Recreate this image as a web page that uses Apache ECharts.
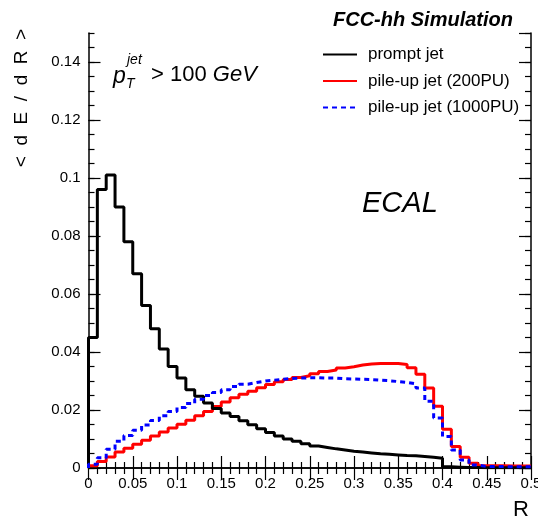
<!DOCTYPE html>
<html>
<head>
<meta charset="utf-8">
<script src="https://cdn.jsdelivr.net/npm/echarts@6/dist/echarts.min.js"></script>
<style>html,body{margin:0;padding:0;background:#fff}#c{width:538px;height:520px}</style>
</head>
<body>
<div id="c"></div>
<script>
// Bin layout: 50 bins of width 0.01 from R = 0 to 0.5
const binWidth = 0.01;
const nBins = 50;

// <dE/dR> per bin
const promptJet = [0.045,0.096,0.101,0.090,0.078,0.067,0.056,0.048,0.041,0.035,
  0.031,0.027,0.0247,0.0224,0.0205,0.019,0.0178,0.0163,0.0149,0.0135,
  0.0122,0.011,0.0100,0.0092,0.0084,0.0076,0.0071,0.0066,0.0062,0.0058,
  0.0055,0.0052,0.0049,0.0047,0.0045,0.0043,0.0042,0.0040,0.0037,0.0034,
  0.0004,0.0003,0.0002,0.0002,0.0001,0.0001,0.0001,0.0001,0.0001,0.0001];

const pileup200 = [0.0008,0.0022,0.0038,0.0055,0.0068,0.0082,0.0096,0.011,0.0124,0.0138,
  0.0151,0.0165,0.018,0.0195,0.0212,0.0228,0.0242,0.0254,0.0265,0.0277,
  0.0288,0.0297,0.0305,0.0312,0.0318,0.0325,0.0333,0.0338,0.0345,0.0349,
  0.0355,0.0359,0.036,0.036,0.036,0.0357,0.0346,0.0323,0.0276,0.0213,
  0.0134,0.0074,0.0037,0.0016,0.0008,0.0008,0.0008,0.0007,0.0007,0.0007];

const pileup1000 = [0.0013,0.0035,0.0065,0.0092,0.0112,0.013,0.0148,0.0164,0.018,0.0195,
  0.0209,0.0222,0.0237,0.025,0.026,0.027,0.0281,0.0289,0.0295,0.03,
  0.0303,0.0306,0.0309,0.031,0.0311,0.0311,0.031,0.031,0.0308,0.0307,
  0.0306,0.0305,0.0303,0.0301,0.0298,0.0295,0.029,0.0276,0.023,0.0172,
  0.0109,0.0062,0.0028,0.001,0.0005,0.0005,0.0005,0.0004,0.0004,0.0004];

const seriesNames = ['prompt jet', 'pile-up jet (200PU)', 'pile-up jet (1000PU)'];
const xTickLabels = ['0','0.05','0.1','0.15','0.2','0.25','0.3','0.35','0.4','0.45','0.5'];
const yTickLabels = ['0','0.02','0.04','0.06','0.08','0.1','0.12','0.14'];

function histPoints(vals) {
  const pts = [[0, 0]];
  for (let i = 0; i < nBins; i++) pts.push([+(i * binWidth).toFixed(2), vals[i]]);
  pts.push([nBins * binWidth, vals[nBins - 1]]);
  return pts;
}

const FONT = 'Liberation Sans, Arial, Helvetica, sans-serif';
const chart = echarts.init(document.getElementById('c'), null, {renderer: 'canvas'});

const lineAx = {show: true, lineStyle: {color: '#000', width: 1.5}};
function xAx(pos, labels) {
  return {
    type: 'value', position: pos, min: 0, max: 0.5, interval: 0.05,
    axisLine: lineAx,
    axisTick: {show: true, inside: true, length: 12, lineStyle: {color: '#000', width: 1.2}},
    minorTick: {show: true, splitNumber: 5, length: 6, lineStyle: {color: '#000', width: 1.2}},
    axisLabel: {show: labels, color: '#000', fontFamily: FONT, fontSize: 15, margin: 8,
      hideOverlap: false,
      formatter: v => xTickLabels[Math.round(v / 0.05)] ?? ''},
    splitLine: {show: false}
  };
}
function yAx(pos, major, labels) {
  return {
    type: 'value', position: pos, min: 0, max: 0.15, interval: major ? 0.02 : 0.005,
    axisLine: major ? lineAx : {show: false},
    axisTick: {show: true, inside: true, length: major ? 12 : 6, lineStyle: {color: '#000', width: 1.2}},
    axisLabel: {show: labels, color: '#000', fontFamily: FONT, fontSize: 15, margin: 8,
      showMaxLabel: false,
      formatter: v => yTickLabels[Math.round(v / 0.02)] ?? ''},
    splitLine: {show: false}
  };
}

chart.setOption({
  animation: false,
  backgroundColor: '#fff',
  title: {
    text: 'FCC-hh Simulation', right: 20, top: 5,
    textStyle: {fontFamily: FONT, fontSize: 20, fontWeight: 'bold', fontStyle: 'italic', color: '#000'}
  },
  legend: {
    orient: 'vertical', left: 317, top: 41, itemWidth: 34, itemHeight: 14, itemGap: 9.5,
    data: seriesNames,
    itemStyle: {opacity: 0},
    textStyle: {fontFamily: FONT, fontSize: 17, color: '#000', padding: [0, 0, 0, 6]}
  },
  grid: {left: 88.5, right: 7, top: 33, bottom: 52, containLabel: false, outerBoundsMode: 'none'},
  xAxis: [xAx('bottom', true), xAx('top', false)],
  yAxis: [yAx('left', true, true), yAx('left', false, false), yAx('right', true, false), yAx('right', false, false)],
  series: [
    {name: seriesNames[0], type: 'line', step: 'end', symbol: 'none', data: histPoints(promptJet),
      lineStyle: {color: '#000', width: 3}, itemStyle: {color: '#000'}, z: 3},
    {name: seriesNames[1], type: 'line', step: 'end', symbol: 'none', data: histPoints(pileup200),
      lineStyle: {color: '#ff0000', width: 3}, itemStyle: {color: '#ff0000'}, z: 2},
    {name: seriesNames[2], type: 'line', step: 'end', symbol: 'none', data: histPoints(pileup1000),
      lineStyle: {color: '#0000ff', width: 3, type: [5, 4]}, itemStyle: {color: '#0000ff'}, z: 4}
  ],
  graphic: [
    {type: 'text', x: 22, y: 98, rotation: Math.PI / 2,
      style: {text: '<  d  E  /  d  R  >', fontFamily: FONT, fontSize: 19, fill: '#000', align: 'center', verticalAlign: 'middle'}},
    {type: 'text', x: 529, y: 510,
      style: {text: 'R', fontFamily: FONT, fontSize: 22, fill: '#000', align: 'right', verticalAlign: 'middle'}},
    {type: 'text', x: 113, y: 77,
      style: {text: 'p', fontFamily: FONT, fontSize: 23, fontStyle: 'italic', fill: '#000', align: 'left', verticalAlign: 'middle'}},
    {type: 'text', x: 127, y: 60,
      style: {text: 'jet', fontFamily: FONT, fontSize: 14, fontStyle: 'italic', fill: '#000', align: 'left', verticalAlign: 'middle'}},
    {type: 'text', x: 126, y: 84,
      style: {text: 'T', fontFamily: FONT, fontSize: 14, fontStyle: 'italic', fill: '#000', align: 'left', verticalAlign: 'middle'}},
    {type: 'text', x: 151, y: 75,
      style: {rich: {n: {fontFamily: FONT, fontSize: 22, fill: '#000'}, i: {fontFamily: FONT, fontSize: 22, fontStyle: 'italic', fill: '#000'}},
        text: '{n|> 100 }{i|GeV}', align: 'left', verticalAlign: 'middle'}},
    {type: 'text', x: 362, y: 204,
      style: {text: 'ECAL', fontFamily: FONT, fontSize: 29, fontStyle: 'italic', fill: '#000', align: 'left', verticalAlign: 'middle'}}
  ]
});
</script>
</body>
</html>
